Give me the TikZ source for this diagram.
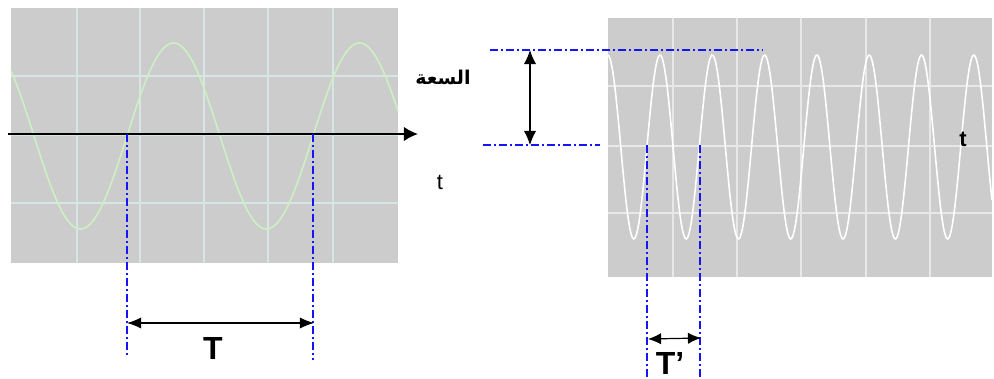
\documentclass[tikz,border=0pt]{standalone}
\usepackage{fontspec}
\setmainfont{Liberation Sans}
\newfontfamily\arabicfont[Script=Arabic]{DejaVu Sans}
\TeXXeTstate=1
\usetikzlibrary{arrows.meta,positioning,calc}
\definecolor{scrgray}{RGB}{204,204,204}
\definecolor{gridgreen}{RGB}{214,230,228}
\definecolor{gridwhite}{RGB}{232,232,232}
\definecolor{tracegreen}{RGB}{205,240,195}
\definecolor{guideblue}{RGB}{20,20,255}

\begin{document}
\begin{tikzpicture}[x=1pt,y=-1pt,>={Latex[length=5mm,width=4mm]},
 gridA/.style={draw=gridgreen,line width=1.2pt},
 gridB/.style={draw=gridwhite,line width=1.2pt},
 trace/.style={line width=1.6pt,samples=300},
 guide/.style={guideblue,line width=1.6pt,dash pattern=on 8pt off 3pt on 2pt off 3pt},
 dim/.style={<->,line width=1.2pt},
 lab/.style={inner sep=0pt}]
\useasboundingbox (0,0) rectangle (994,378);
% left screen
\fill[scrgray] (11,8) rectangle (398,263);
\foreach \x in {77,140,204,268,333}{\draw[gridA] (\x,8)--(\x,263);}
\foreach \y in {76,135,203}{\draw[gridA] (11,\y)--(398,\y);}
\draw[trace,tracegreen,domain=11:398] plot (\x,{136-93*sin(1.93548*(\x-127))});
\coordinate (ax0) at (8,134);
\coordinate (ax1) at (418,134);
\draw[->,line width=2.2pt,>={Latex[length=5mm,width=5.2mm]}] (ax0)--(ax1);
\node[lab,font=\fontsize{22}{22}\selectfont] (tl) at (440,182) {t};
\node[lab,font=\arabicfont\bfseries\fontsize{19}{19}\selectfont] (amp) at (443,77) {\beginR السعة\endR};
% period T
\coordinate (g1a) at (127,134);
\coordinate (g1b) at (127,355);
\coordinate (g2a) at (313,134);
\coordinate (g2b) at (313,360);
\draw[guide] (g1a)--(g1b);
\draw[guide] (g2a)--(g2b);
\coordinate (pA) at (127,323);
\coordinate (pB) at (314,323);
\draw[dim] (pA)--(pB);
\node[lab,font=\bfseries\fontsize{32}{32}\selectfont] (lblT) at (213,348) {T};
% right screen
\fill[scrgray] (608,18) rectangle (992,277);
\foreach \x in {673,737,801,866,930}{\draw[gridB] (\x,18)--(\x,277);}
\foreach \y in {86,146,213}{\draw[gridB] (608,\y)--(992,\y);}
\draw[trace,white,domain=608:992] plot (\x,{147-92*cos(6.8834*(\x-607.7))});
\node[lab,font=\bfseries\fontsize{22}{22}\selectfont] (tr) at (963,139) {t};
% amplitude
\coordinate (h1a) at (490,50);
\coordinate (h1b) at (763,50);
\coordinate (h2a) at (483,145);
\coordinate (h2b) at (600,145);
\draw[guide] (h1a)--(h1b);
\draw[guide] (h2a)--(h2b);
\coordinate (mA) at (530,50);
\coordinate (mB) at (530,145);
\draw[dim,>={Latex[length=5mm,width=4.4mm]}] (mA)--(mB);
% period T'
\coordinate (k1a) at (647,145);
\coordinate (k1b) at (647,378);
\coordinate (k2a) at (700,145);
\coordinate (k2b) at (700,378);
\draw[guide] (k1a)--(k1b);
\draw[guide] (k2a)--(k2b);
\coordinate (qA) at (648,339);
\coordinate (qB) at (701,338);
\draw[dim,>={Latex[length=4.6mm,width=4mm]}] (qA)--(qB);
\node[lab,font=\bfseries\fontsize{32}{32}\selectfont,anchor=north] (lblTp) at (670,352) {T’};
\end{tikzpicture}
\end{document}
